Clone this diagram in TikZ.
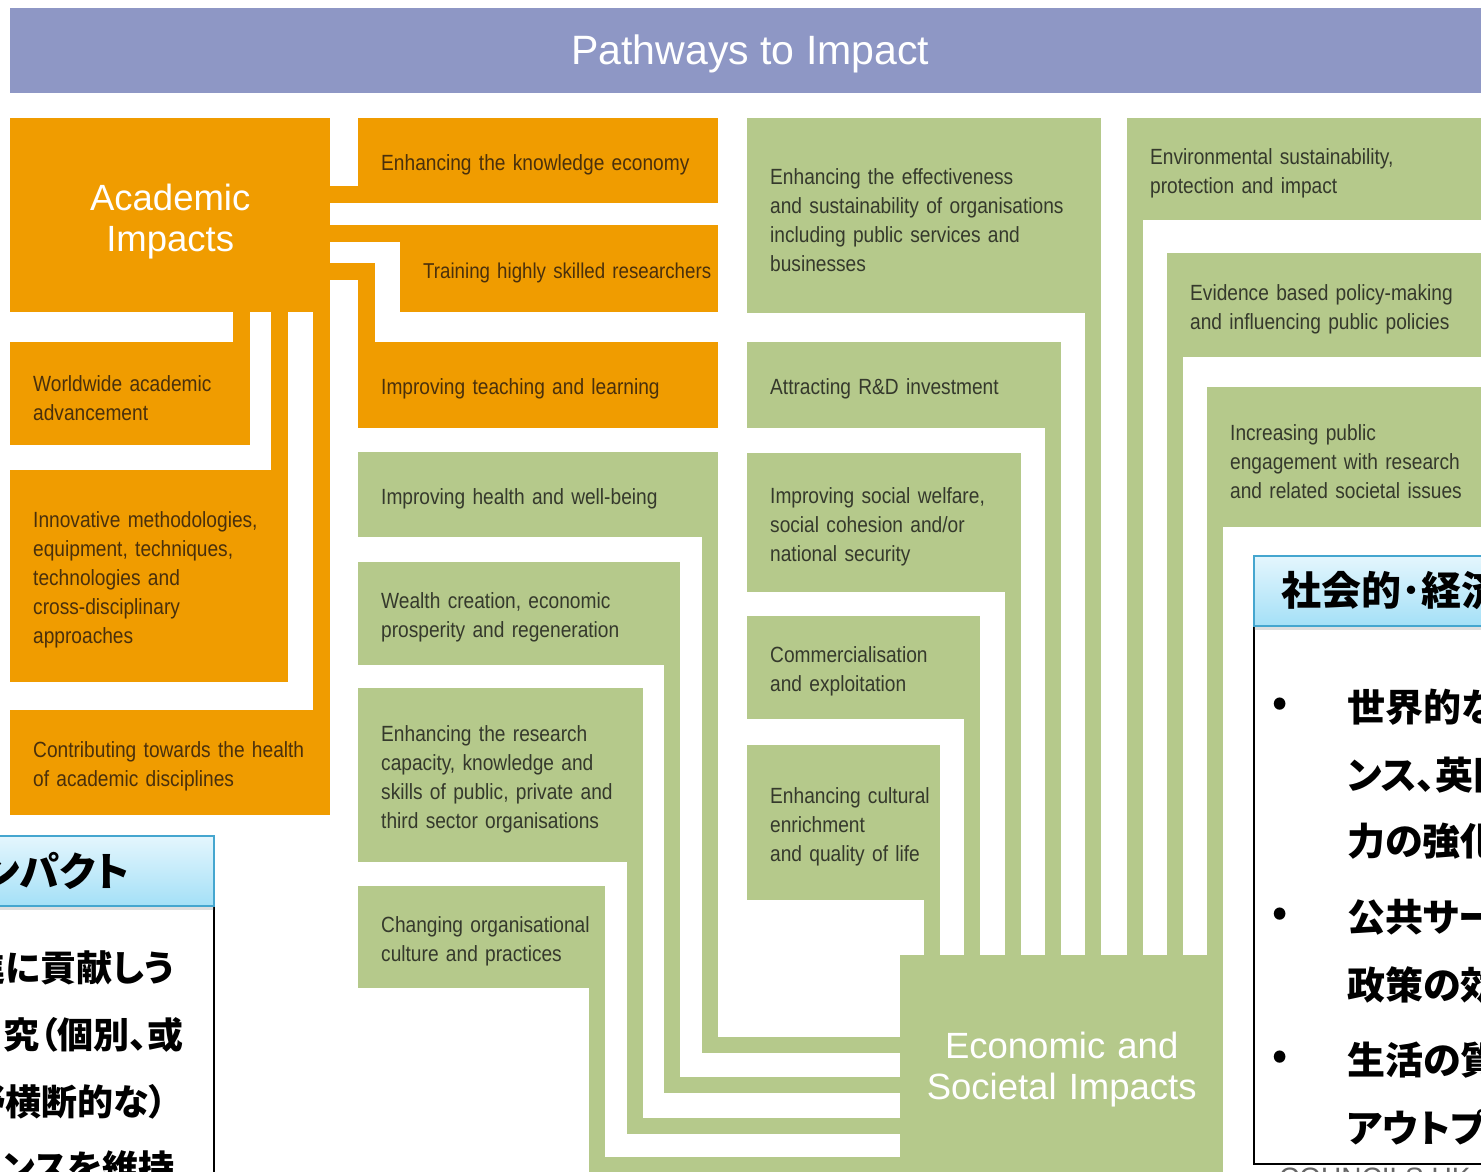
\documentclass[tikz,border=0pt]{standalone}
\usepackage{fontspec}
\usepackage{xcolor}
\usepackage{tikz}
\usetikzlibrary{positioning}
\usetikzlibrary{shadows}

\setmainfont{Liberation Sans}
\newfontfamily\condfont[FakeStretch=0.87]{Liberation Sans}
\newfontfamily\jpfont[RawFeature=+palt]{Noto Sans CJK JP}

\definecolor{bannerblue}{HTML}{8E97C5}
\definecolor{acad}{HTML}{F09C00}
\definecolor{acadtext}{HTML}{4A300C}
\definecolor{soc}{HTML}{B5C98B}
\definecolor{soctext}{HTML}{35392C}
\definecolor{jpedge}{HTML}{45A6CF}
\definecolor{jptop}{HTML}{E4F6FD}
\definecolor{jpbottom}{HTML}{A4E0F7}

\tikzset{
  acadbox/.style={anchor=north west, fill=acad, text=acadtext, align=left,
    inner xsep=23pt, inner ysep=0pt, font=\condfont\fontsize{22}{29}\selectfont,
    execute at begin node={\rule{0pt}{24pt}}},
  socbox/.style={acadbox, fill=soc, text=soctext},
  hub/.style={anchor=north west, text=white, align=center, inner sep=0pt,
    font=\fontsize{36.5}{41}\selectfont, execute at begin node={\rule{0pt}{39pt}}},
  acadpipe/.style={draw=acad, line width=17pt, shorten <=-1pt, shorten >=-1pt},
  socpipe/.style={draw=soc, line width=16pt, shorten <=-1pt, shorten >=-1pt},
  jptitle/.style={top color=jptop, bottom color=jpbottom, draw=jpedge, line width=2pt,
    drop shadow={opacity=0.25, shadow xshift=0pt, shadow yshift=-4pt},
    minimum height=70pt, text width=250pt, text=black,
    font=\jpfont\bfseries\fontsize{40}{40}\selectfont},
  jpbody/.style={fill=white, draw=black, line width=2pt},
  jpline/.style={inner sep=0pt, text=black, font=\jpfont\bfseries\fontsize{38}{38}\selectfont},
}

\begin{document}
\begin{tikzpicture}[x=1pt, y=-1pt]
  \useasboundingbox (0,0) rectangle (1481,1172);
  \clip (0,0) rectangle (1481,1172);
  \fill[white] (0,0) rectangle (1481,1172);

  \node[anchor=north west, fill=bannerblue, text=white, minimum width=1480pt, minimum height=85pt,
    font=\fontsize{41}{41}\selectfont, execute at begin node={\rule{0pt}{37pt}}] (banner) at (10,8) {Pathways to Impact};

  % academic impacts
  \node[hub, fill=acad, text width=320pt, minimum height=194pt] (acadhub) at (10,118) {Academic\\Impacts};
  \node[acadbox, text width=194pt, minimum height=103pt] (worldwide) at (10,342) {Worldwide academic\\advancement};
  \node[acadbox, text width=232pt, minimum height=212pt] (methods) at (10,470)
    {Innovative methodologies,\\equipment, techniques,\\technologies and\\cross-disciplinary\\approaches};
  \node[acadbox, text width=274pt, minimum height=105pt] (disciplines) at (10,710)
    {\mbox{Contributing towards the health}\\of academic disciplines};
  \node[acadbox, text width=314pt, minimum height=85pt] (knowledge) at (358,118) {Enhancing the knowledge economy};
  \node[acadbox, text width=272pt, minimum height=87pt, font=\condfont\fontsize{21.5}{29}\selectfont] (training) at (400,225)
    {\mbox{Training highly skilled researchers}};
  \node[acadbox, text width=314pt, minimum height=86pt] (teaching) at (358,342) {Improving teaching and learning};

  \draw[acadpipe] ([xshift=-8.5pt]worldwide.north east) -- ([xshift=-8.5pt]worldwide.north east |- acadhub.south);
  \draw[acadpipe] ([xshift=-8.5pt]methods.north east) -- ([xshift=-8.5pt]methods.north east |- acadhub.south);
  \draw[acadpipe] ([xshift=-8.5pt]disciplines.north east) -- ([xshift=-8.5pt]disciplines.north east |- acadhub.south);
  \draw[acadpipe] ([yshift=8.5pt]knowledge.south west) -- ([yshift=8.5pt]knowledge.south west -| acadhub.east);
  \draw[acadpipe] ([yshift=-8.5pt]training.north west) -- ([yshift=-8.5pt]training.north west -| acadhub.east);
  \draw[acadpipe] ([xshift=8.5pt]teaching.north west) |- ([yshift=-153.5pt]acadhub.north east);

  % economic and societal impacts
  \node[hub, fill=soc, text width=323pt, minimum height=217pt] (econhub) at (900,955) {Economic and\\Societal Impacts};
  \node[socbox, text width=314pt, minimum height=85pt] (health) at (358,452) {Improving health and well-being};
  \node[socbox, text width=276pt, minimum height=103pt] (wealth) at (358,562) {Wealth creation, economic\\prosperity and regeneration};
  \node[socbox, text width=239pt, minimum height=174pt] (capacity) at (358,688)
    {Enhancing the research\\capacity, knowledge and\\skills of public, private and\\third sector organisations};
  \node[socbox, text width=201pt, minimum height=102pt] (culture) at (358,886) {\mbox{Changing organisational}\\culture and practices};
  \node[socbox, text width=308pt, minimum height=195pt] (effective) at (747,118)
    {Enhancing the effectiveness\\and sustainability of organisations\\including public services and\\businesses};
  \node[socbox, text width=268pt, minimum height=86pt] (investment) at (747,342) {Attracting R\&D investment};
  \node[socbox, text width=228pt, minimum height=139pt] (welfare) at (747,453)
    {Improving social welfare,\\social cohesion and/or\\national security};
  \node[socbox, text width=187pt, minimum height=103pt] (commerce) at (747,616) {Commercialisation\\and exploitation};
  \node[socbox, text width=147pt, minimum height=155pt] (enrichment) at (747,745)
    {\mbox{Enhancing cultural}\\enrichment\\\mbox{and quality of life}};
  \node[socbox, text width=314pt, minimum height=102pt] (environment) at (1127,118)
    {Environmental sustainability,\\protection and impact};
  \node[socbox, text width=274pt, minimum height=104pt] (policy) at (1167,253)
    {Evidence based policy-making\\and influencing public policies};
  \node[socbox, text width=234pt, minimum height=140pt] (engagement) at (1207,387)
    {Increasing public\\engagement with research\\and related societal issues};

  \foreach \src in {effective, investment, welfare, commerce, enrichment}
    \draw[socpipe] ([xshift=-8pt]\src.south east) -- ([xshift=-8pt]\src.south east |- econhub.north);
  \foreach \src in {environment, policy, engagement}
    \draw[socpipe] ([xshift=8pt]\src.south west) -- ([xshift=8pt]\src.south west |- econhub.north);
  \foreach \src/\lift in {health/127.5, wealth/87.5, capacity/46.5, culture/7}
    \draw[socpipe] ([xshift=-8pt]\src.south east) |- ([yshift=\lift pt]econhub.south west);

  % overlaid japanese panels
  \node[jpbody, anchor=north east, minimum width=320pt, minimum height=320pt] (acadbody) at (215,905) {};
  \node[jptitle, anchor=north east, inner xsep=85pt, align=right] (acadjp) at (215,835) {ンパクト};
  \foreach \txt/\xx/\yy [count=\i] in {進に貢献しう/174/968, 究（個別、或/184/1035, 野横断的な）/167/1102, ンスを維持/175/1168}
    \node[jpline, anchor=east, font=\jpfont\bfseries\fontsize{36}{36}\selectfont] (acadline\i) at (\xx,\yy) {\txt};

  \node[jpbody, anchor=north west, minimum width=300pt, minimum height=538pt] (socbody) at (1253,625) {};
  \node[jptitle, anchor=north west, inner xsep=27pt, align=left] (socjp) at (1253,555) {社会的･経済};
  \foreach \yy [count=\i] in {707, 917, 1060}
    \node[jpline] (socdot\i) at (1280,\yy) {•};
  \foreach \txt/\yy [count=\i] in {世界的な/707, ンス、英国/775, 力の強化/841, 公共サー/917, 政策の効/985, 生活の質/1060, アウトプッ/1128}
    \node[jpline, anchor=west] (socline\i) at (1347,\yy) {\txt};

  \node[anchor=north west, inner sep=0pt, text=black!60, font=\fontsize{28}{28}\selectfont] (councils) at (1279,1168) {COUNCILS UK};
\end{tikzpicture}
\end{document}
